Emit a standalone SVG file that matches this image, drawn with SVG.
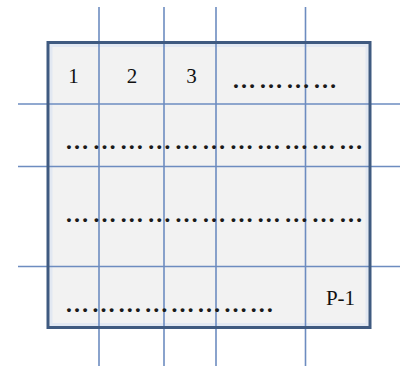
<svg xmlns="http://www.w3.org/2000/svg" width="400" height="368" viewBox="0 0 400 368">
  <style>
    .grid { stroke: #6d8cc0; stroke-width: 1.6; fill: none; }
    .frame { fill: none; stroke: #3f5a80; stroke-width: 3; }
    .lbl { font-family: "Liberation Serif", "Times New Roman", serif; font-size: 21px; fill: #111; text-anchor: middle; }
    .dots { font-family: "Liberation Serif", "Times New Roman", serif; font-size: 24px; font-weight: bold; fill: #1a1a1a; }
  </style>
  <rect x="0" y="0" width="400" height="368" fill="#ffffff"/>
  <g id="sheet">
    <rect x="48" y="42.5" width="322" height="285" fill="#f2f2f2"/>
    <rect x="51" y="45.5" width="316" height="279" fill="none" stroke="#e2e8f2" stroke-width="3"/>
  </g>
  <g id="connectors">
    <line class="grid" x1="99" y1="7" x2="99" y2="366"/>
    <line class="grid" x1="164" y1="7" x2="164" y2="366"/>
    <line class="grid" x1="216" y1="7" x2="216" y2="366"/>
    <line class="grid" x1="305.5" y1="7" x2="305.5" y2="366"/>
    <line class="grid" x1="18" y1="104" x2="400" y2="104"/>
    <line class="grid" x1="18" y1="166.5" x2="400" y2="166.5"/>
    <line class="grid" x1="18" y1="266.5" x2="400" y2="266.5"/>
  </g>
  <g id="frame">
    <rect class="frame" x="48" y="42.5" width="322" height="285"/>
  </g>
  <g id="cell-1"><text class="lbl" x="73.5" y="83">1</text></g>
  <g id="cell-2"><text class="lbl" x="132" y="83">2</text></g>
  <g id="cell-3"><text class="lbl" x="191.5" y="83">3</text></g>
  <g id="row-1-dots"><text class="dots" x="232" y="88" letter-spacing="3">&#8230;&#8230;&#8230;&#8230;</text></g>
  <g id="row-2-dots"><text class="dots" x="65" y="149" letter-spacing="3.4">&#8230;&#8230;&#8230;&#8230;&#8230;&#8230;&#8230;&#8230;&#8230;&#8230;&#8230;</text></g>
  <g id="row-3-dots"><text class="dots" x="65" y="222" letter-spacing="3.4">&#8230;&#8230;&#8230;&#8230;&#8230;&#8230;&#8230;&#8230;&#8230;&#8230;&#8230;</text></g>
  <g id="row-4-dots"><text class="dots" x="65" y="312" letter-spacing="2.4">&#8230;&#8230;&#8230;&#8230;&#8230;&#8230;&#8230;&#8230;</text></g>
  <g id="cell-p1"><text class="lbl" x="340.5" y="305">P-1</text></g>
</svg>
